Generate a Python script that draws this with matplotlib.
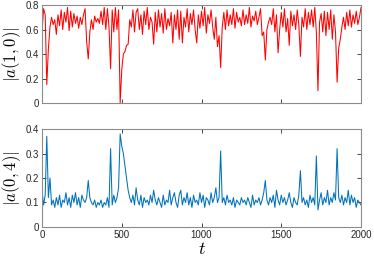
import numpy as np
import matplotlib
matplotlib.use("Agg")
import matplotlib.pyplot as plt

plt.rcParams['font.family'] = ['Liberation Sans', 'DejaVu Sans']
plt.rcParams['mathtext.fontset'] = 'cm'

# time axis, one value every 10 units
t = np.arange(0, 2001, 10)

# |a(1,0)|
a10 = [0.58, 0.77, 0.72, 0.15, 0.44, 0.62, 0.70, 0.64, 0.68, 0.56,
       0.72, 0.63, 0.76, 0.60, 0.74, 0.66, 0.78, 0.59, 0.75, 0.62,
       0.73, 0.65, 0.71, 0.61, 0.70, 0.64, 0.72, 0.77, 0.50, 0.36,
       0.58, 0.68, 0.60, 0.71, 0.66, 0.69, 0.65, 0.75, 0.64, 0.78,
       0.60, 0.77, 0.62, 0.28, 0.76, 0.58, 0.78, 0.60, 0.76, 0.00,
       0.27, 0.40, 0.42, 0.47, 0.48, 0.68, 0.62, 0.76, 0.58, 0.74,
       0.77, 0.60, 0.72, 0.56, 0.75, 0.64, 0.78, 0.60, 0.70, 0.66,
       0.48, 0.74, 0.58, 0.76, 0.62, 0.73, 0.57, 0.77, 0.60, 0.69,
       0.63, 0.74, 0.49, 0.72, 0.60, 0.76, 0.52, 0.75, 0.49, 0.70,
       0.62, 0.77, 0.58, 0.73, 0.64, 0.76, 0.60, 0.49, 0.72, 0.61,
       0.75, 0.63, 0.78, 0.57, 0.72, 0.65, 0.76, 0.62, 0.52, 0.70,
       0.46, 0.55, 0.29, 0.62, 0.74, 0.60, 0.76, 0.63, 0.72, 0.64,
       0.77, 0.61, 0.74, 0.66, 0.70, 0.63, 0.76, 0.64, 0.72, 0.65,
       0.78, 0.62, 0.71, 0.67, 0.75, 0.64, 0.70, 0.77, 0.55, 0.58,
       0.35, 0.60, 0.66, 0.70, 0.64, 0.77, 0.58, 0.72, 0.41, 0.60,
       0.74, 0.62, 0.77, 0.58, 0.69, 0.47, 0.75, 0.63, 0.72, 0.60,
       0.76, 0.64, 0.38, 0.70, 0.62, 0.77, 0.60, 0.74, 0.64, 0.76,
       0.62, 0.78, 0.58, 0.10, 0.66, 0.73, 0.58, 0.75, 0.55, 0.74,
       0.60, 0.76, 0.52, 0.72, 0.58, 0.17, 0.45, 0.52, 0.62, 0.70,
       0.60, 0.74, 0.63, 0.76, 0.62, 0.72, 0.65, 0.75, 0.64, 0.70,
       0.78]

# |a(0,4)|
a04 = [0.15, 0.09, 0.13, 0.37, 0.12, 0.20, 0.09, 0.11, 0.08, 0.12,
       0.09, 0.13, 0.08, 0.11, 0.10, 0.14, 0.09, 0.12, 0.08, 0.13,
       0.10, 0.14, 0.09, 0.12, 0.08, 0.13, 0.11, 0.10, 0.12, 0.19,
       0.12, 0.10, 0.09, 0.11, 0.08, 0.10, 0.09, 0.11, 0.08, 0.10,
       0.09, 0.12, 0.08, 0.32, 0.09, 0.13, 0.10, 0.12, 0.16, 0.38,
       0.33, 0.30, 0.25, 0.20, 0.15, 0.12, 0.10, 0.13, 0.09, 0.16,
       0.11, 0.09, 0.13, 0.08, 0.12, 0.10, 0.11, 0.09, 0.13, 0.10,
       0.15, 0.11, 0.09, 0.12, 0.10, 0.08, 0.13, 0.09, 0.11, 0.10,
       0.15, 0.09, 0.12, 0.14, 0.10, 0.08, 0.13, 0.15, 0.09, 0.12,
       0.10, 0.14, 0.09, 0.12, 0.08, 0.13, 0.10, 0.11, 0.09, 0.14,
       0.10, 0.13, 0.08, 0.12, 0.11, 0.09, 0.14, 0.10, 0.12, 0.16,
       0.10, 0.12, 0.31, 0.10, 0.12, 0.09, 0.13, 0.10, 0.11, 0.09,
       0.12, 0.08, 0.11, 0.10, 0.09, 0.12, 0.10, 0.11, 0.09, 0.12,
       0.10, 0.08, 0.13, 0.09, 0.11, 0.10, 0.12, 0.09, 0.11, 0.14,
       0.19, 0.11, 0.09, 0.12, 0.10, 0.13, 0.08, 0.15, 0.11, 0.09,
       0.13, 0.10, 0.12, 0.09, 0.11, 0.14, 0.10, 0.08, 0.12, 0.10,
       0.09, 0.13, 0.23, 0.10, 0.12, 0.09, 0.11, 0.08, 0.13, 0.10,
       0.12, 0.09, 0.29, 0.07, 0.11, 0.14, 0.09, 0.12, 0.10, 0.15,
       0.09, 0.12, 0.10, 0.14, 0.11, 0.32, 0.12, 0.10, 0.13, 0.09,
       0.12, 0.10, 0.15, 0.09, 0.13, 0.10, 0.12, 0.08, 0.11, 0.10,
       0.09]

xticks = [0, 500, 1000, 1500, 2000]
yticks_top = [0, 0.2, 0.4, 0.6, 0.8]
yticks_bot = [0, 0.1, 0.2, 0.3, 0.4]

fig = plt.figure(figsize=(3.74, 2.65), dpi=100)
ax1 = fig.add_axes([0.1123, 0.6113, 0.853, 0.3698])
ax2 = fig.add_axes([0.1123, 0.1434, 0.853, 0.3698])

ax1.plot(t, a10, color='#FF0000', lw=0.75)
ax2.plot(t, a04, color='#0072BD', lw=0.75)

def style(ax, yt, ylab):
    ax.set_xlim(0, 2000)
    ax.set_ylim(yt[0], yt[-1])
    ax.set_xticks(xticks)
    ax.set_yticks(yt)
    ax.set_yticklabels([('%g' % v) for v in yt])
    ax.tick_params(direction='in', length=3, width=0.6, colors='#262626',
                   labelsize=7, pad=2, top=True, right=True)
    for s in ax.spines.values():
        s.set_color('#8c8c8c')
        s.set_linewidth(0.8)
    ax.set_ylabel(ylab, fontsize=12, labelpad=2)

style(ax1, yticks_top, r'$|a(1,0)|$')
style(ax2, yticks_bot, r'$|a(0,4)|$')
ax1.set_xticklabels([])
ax2.set_xlabel(r'$t$', fontsize=13, labelpad=1)

fig.savefig('out.png', dpi=100)
